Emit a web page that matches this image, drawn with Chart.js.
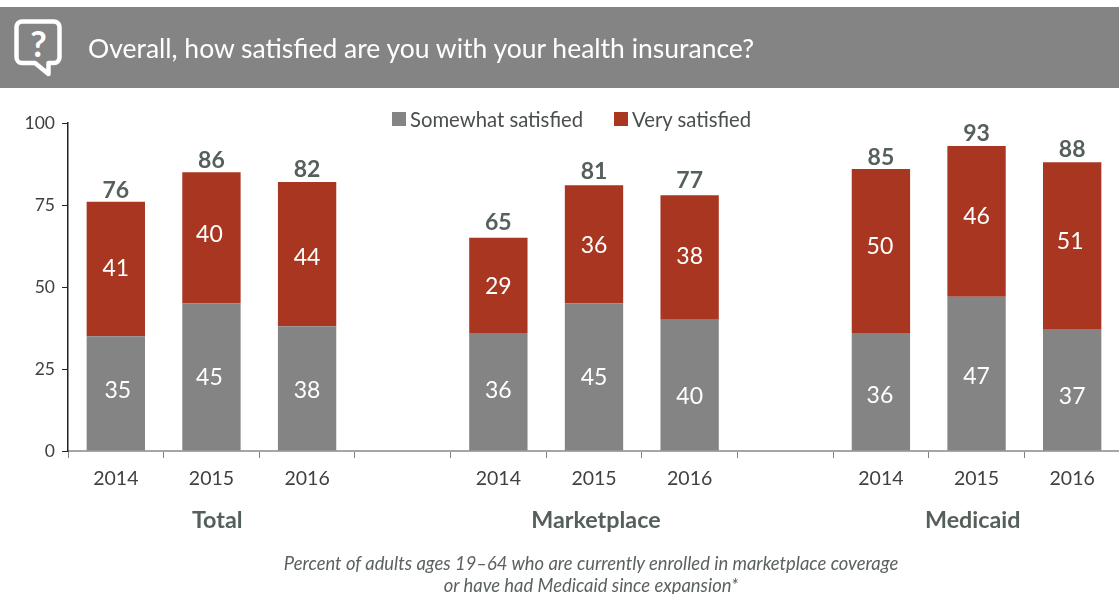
<!DOCTYPE html>
<html>
<head>
<meta charset="utf-8">
<title>Health insurance satisfaction</title>
<script src="https://cdn.jsdelivr.net/npm/chart.js@4"></script>
<style>
  html, body { margin: 0; padding: 0; background: #fff; overflow: hidden; font-family: Lato, sans-serif; }
  #page { position: relative; width: 1119px; height: 594px; overflow: hidden; }
  #chart-box { position: absolute; left: 0; top: 0; width: 1120px; height: 594px; }
  #banner { position: absolute; left: 0; top: 7px; width: 1119px; height: 81px; background: #848484; }
  #banner svg { position: absolute; left: 14px; top: 12px; }
  #banner .title { position: absolute; left: 88px; top: 0; line-height: 82px; font-size: 26.5px; color: #fff; white-space: nowrap; }
  #legend { position: absolute; top: 107px; left: 392px; height: 24px; font-size: 20.3px; line-height: 24px; color: #4a4f4b; white-space: nowrap; }
  #legend i { position: absolute; top: 5px; width: 14px; height: 14px; }
  #legend span { position: absolute; top: 0; }
  #note { position: absolute; left: 0; width: 1182px; top: 552px; text-align: center; font-style: italic; font-size: 18.4px; line-height: 22px; color: #5b625d; }
</style>
</head>
<body>
<div id="page">
  <div id="chart-box"><canvas id="chart"></canvas></div>
  <div id="banner">
    <svg width="50" height="60" viewBox="0 0 50 60">
      <path d="M8 2.500H40a5.500 5.500 0 0 1 5.500 5.500V38.500a5.500 5.500 0 0 1-5.500 5.500H34.500V55L21 44H8a5.500 5.500 0 0 1-5.500-5.500V8a5.500 5.500 0 0 1 5.500-5.500Z" fill="none" stroke="#fff" stroke-width="4.500" stroke-linejoin="round"/>
      <text x="24.500" y="38" text-anchor="middle" font-family="Lato, sans-serif" font-weight="700" font-size="36" fill="#fff">?</text>
    </svg>
    <div class="title">Overall, how satisfied are you with your health insurance?</div>
  </div>
  <div id="legend">
    <i style="left:0;background:#848484"></i><span style="left:18px">Somewhat satisfied</span>
    <i style="left:222px;background:#a83621"></i><span style="left:240px">Very satisfied</span>
  </div>
  <div id="note">Percent of adults ages 19–64 who are currently enrolled in marketplace coverage<br>or have had Medicaid since expansion*</div>
</div>
<script>
const years = ['2014', '2015', '2016', '', '2014', '2015', '2016', '', '2014', '2015', '2016'];
const somewhat = [35, 45, 38, null, 36, 45, 40, null, 36, 47, 37];
const very = [41, 40, 44, null, 29, 36, 38, null, 50, 46, 51];
const totals = [76, 86, 82, null, 65, 81, 77, null, 85, 93, 88];
const groups = ['Total', 'Marketplace', 'Medicaid'];
const groupCenters = [1.06, 5.02, 8.96]; // category index under each group name

const GREY = '#848484';
const RED = '#a83621';
const DARK = '#55605a';

// the source chart's labels were hand placed, so each one gets a small pixel shift
const lowShift = [[2, -3], [-2, 0], [0, 2], null, [0, -1], [0, 0], [0, 11], null, [-1, 4], [0, 3], [0, 6]];
const highShift = [[0, 0], [-2, -3], [0, 3], null, [0, 1], [0, 1], [0, -1], null, [-1, -4], [0, -5], [-2, -4]];
const totalShift = [1, 0, 0, null, -3, -2, -3, null, 1, 0, -1];

// numbers inside and above the bars, plus the group names under the axis
const barLabels = {
  id: 'barLabels',
  afterDatasetsDraw(chart) {
    const ctx = chart.ctx;
    const x = chart.scales.x;
    const y = chart.scales.y;
    ctx.save();
    ctx.textAlign = 'center';
    ctx.textBaseline = 'middle';

    ctx.fillStyle = '#fff';
    ctx.font = '23px Lato, sans-serif';
    years.forEach((yr, i) => {
      if (somewhat[i] === null) return;
      const px = x.getPixelForValue(i);
      ctx.fillText(somewhat[i], px + lowShift[i][0], y.getPixelForValue(somewhat[i] / 2) + lowShift[i][1]);
      ctx.fillText(very[i], px + highShift[i][0], y.getPixelForValue(somewhat[i] + very[i] / 2) + highShift[i][1]);
    });

    ctx.fillStyle = DARK;
    ctx.font = 'bold 23px Lato, sans-serif';
    years.forEach((yr, i) => {
      if (totals[i] === null) return;
      ctx.fillText(totals[i], x.getPixelForValue(i), y.getPixelForValue(somewhat[i] + very[i]) - 12 + totalShift[i]);
    });

    ctx.font = 'bold 23.300px Lato, sans-serif';
    groups.forEach((name, i) => {
      ctx.fillText(name, x.getPixelForValue(groupCenters[i]), 520.5);
    });
    ctx.restore();
  }
};

new Chart(document.getElementById('chart'), {
  type: 'bar',
  data: {
    labels: years,
    datasets: [
      { label: 'Somewhat satisfied', data: somewhat, backgroundColor: GREY },
      { label: 'Very satisfied', data: very, backgroundColor: RED }
    ]
  },
  plugins: [barLabels],
  options: {
    responsive: true,
    maintainAspectRatio: false,
    animation: false,
    layout: { padding: { top: 123, left: 0, right: 0, bottom: 0 } },
    plugins: { legend: { display: false }, tooltip: { enabled: false } },
    datasets: { bar: { barPercentage: 0.61, categoryPercentage: 1 } },
    scales: {
      x: {
        stacked: true,
        afterFit: (scale) => { scale.height = 143; },
        border: { color: '#a6a6a6', width: 2 },
        grid: { offset: true, drawOnChartArea: false, color: '#808080', tickLength: 7 },
        ticks: { color: '#404040', padding: 9, maxRotation: 0, autoSkip: false, font: { family: 'Lato', size: 19.5 } }
      },
      y: {
        stacked: true,
        min: 0,
        max: 100,
        afterFit: (scale) => { scale.width = 68; },
        border: { color: '#222', width: 1.5 },
        grid: { drawOnChartArea: false, color: '#222', tickLength: 6 },
        ticks: { stepSize: 25, color: '#404040', padding: 7, font: { family: 'Lato', size: 17.5 } }
      }
    }
  }
});
</script>
</body>
</html>
